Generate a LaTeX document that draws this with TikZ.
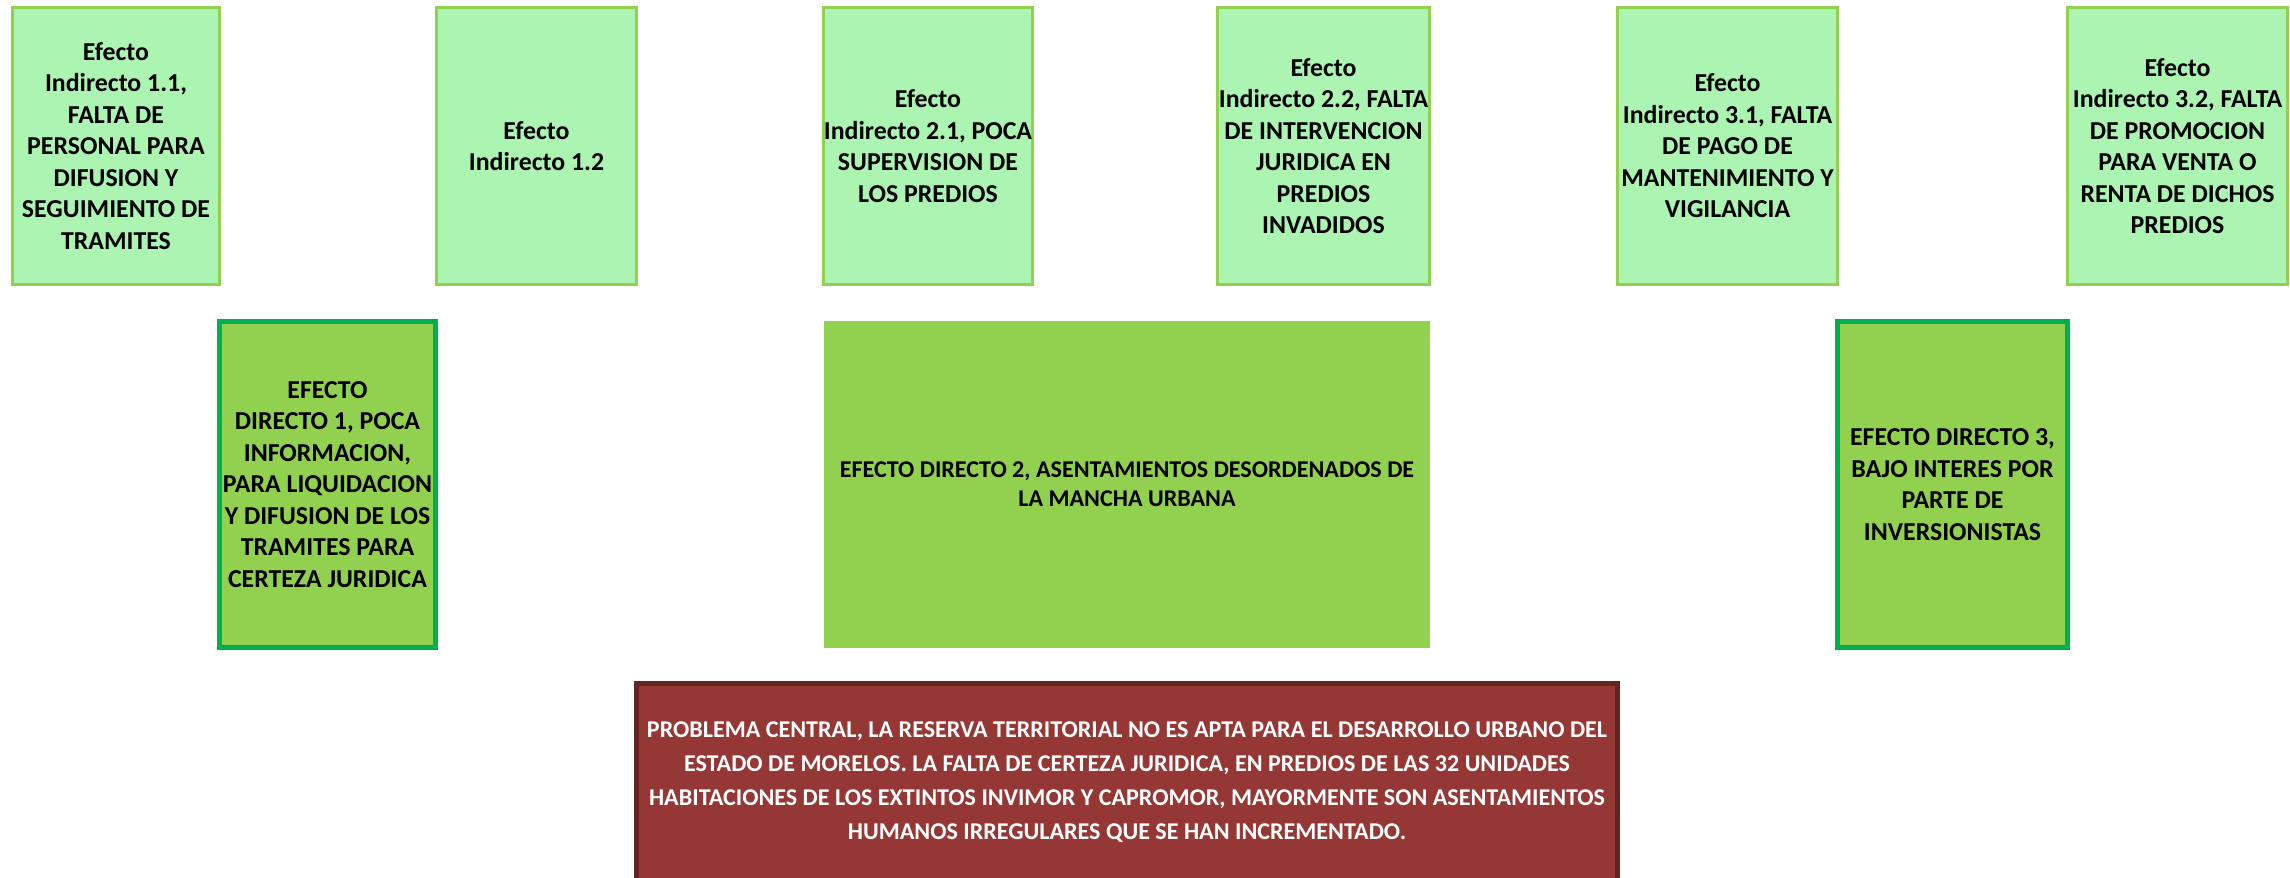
\documentclass[tikz,border=0pt]{standalone}
\usepackage{fontspec}
\setmainfont{Carlito}
\usepackage{tikz}

\definecolor{verdeclaro}{HTML}{ACF4B1}
\definecolor{verdeborde}{HTML}{92D050}
\definecolor{verdefuerte}{HTML}{00B050}
\definecolor{guinda}{HTML}{953735}
\definecolor{guindaborde}{HTML}{632523}

\begin{document}
\begin{tikzpicture}[
        indirecto/.style={draw=verdeborde, fill=verdeclaro, line width=0.85pt,
            minimum height=2.77cm, inner sep=0pt, align=center,
            font=\fontsize{7.35}{8.95}\selectfont\bfseries},
        directo/.style={draw=verdefuerte, fill=verdeborde, line width=1.4pt,
            minimum height=3.26cm, inner sep=0pt, align=center,
            font=\fontsize{7.35}{8.95}\selectfont\bfseries},
        central/.style={draw=guindaborde, fill=guinda, line width=1.4pt, text=white,
            minimum width=9.81cm, minimum height=1.97cm, inner sep=0pt, align=center,
            font=\fontsize{6.85}{9.65}\selectfont\bfseries}
    ]
        \useasboundingbox (0, 0) rectangle (22.9, -8.77);
        \clip (0, 0) rectangle (22.9, -8.77);

        % efectos indirectos
        \node[indirecto, minimum width=2.07cm] (ei11) at (1.16, -1.46) {Efecto\\ Indirecto 1.1,\\ FALTA DE\\ PERSONAL PARA\\ DIFUSION Y\\ SEGUIMIENTO DE\\ TRAMITES};
        \node[indirecto, minimum width=2.00cm] (ei12) at (5.365, -1.46) {Efecto\\ Indirecto 1.2};
        \node[indirecto, minimum width=2.07cm] (ei21) at (9.28, -1.46) {Efecto\\ Indirecto 2.1, POCA\\ SUPERVISION DE\\ LOS PREDIOS};
        \node[indirecto, minimum width=2.12cm] (ei22) at (13.235, -1.46) {Efecto\\ Indirecto 2.2, FALTA\\ DE INTERVENCION\\ JURIDICA EN\\ PREDIOS\\ INVADIDOS};
        \node[indirecto, minimum width=2.20cm] (ei31) at (17.275, -1.46) {Efecto\\ Indirecto 3.1, FALTA\\ DE PAGO DE\\ MANTENIMIENTO Y\\ VIGILANCIA};
        \node[indirecto, minimum width=2.20cm] (ei32) at (21.775, -1.46) {Efecto\\ Indirecto 3.2, FALTA\\ DE PROMOCION\\ PARA VENTA O\\ RENTA DE DICHOS\\ PREDIOS};

        % efectos directos
        \node[directo, minimum width=2.16cm] (ed1) at (3.275, -4.845) {EFECTO\\ DIRECTO 1, POCA\\ INFORMACION,\\ PARA LIQUIDACION\\ Y DIFUSION DE LOS\\ TRAMITES PARA\\ CERTEZA JURIDICA};
        \node[directo, draw=none, minimum width=6.06cm, minimum height=3.27cm,
            font=\fontsize{6.85}{8.3}\selectfont\bfseries] (ed2) at (11.27, -4.845) {EFECTO DIRECTO 2, ASENTAMIENTOS DESORDENADOS DE\\ LA MANCHA URBANA};
        \node[directo, minimum width=2.30cm] (ed3) at (19.525, -4.845) {EFECTO DIRECTO 3,\\ BAJO INTERES POR\\ PARTE DE\\ INVERSIONISTAS};

        % problema central
        \node[central] (pc) at (11.27, -7.82) {PROBLEMA CENTRAL, LA RESERVA TERRITORIAL NO ES APTA PARA EL DESARROLLO URBANO DEL\\ ESTADO DE MORELOS. LA FALTA DE CERTEZA JURIDICA, EN PREDIOS DE LAS 32 UNIDADES\\ HABITACIONES DE LOS EXTINTOS INVIMOR Y CAPROMOR, MAYORMENTE SON ASENTAMIENTOS\\ HUMANOS IRREGULARES QUE SE HAN INCREMENTADO.};
    \end{tikzpicture}
\end{document}
